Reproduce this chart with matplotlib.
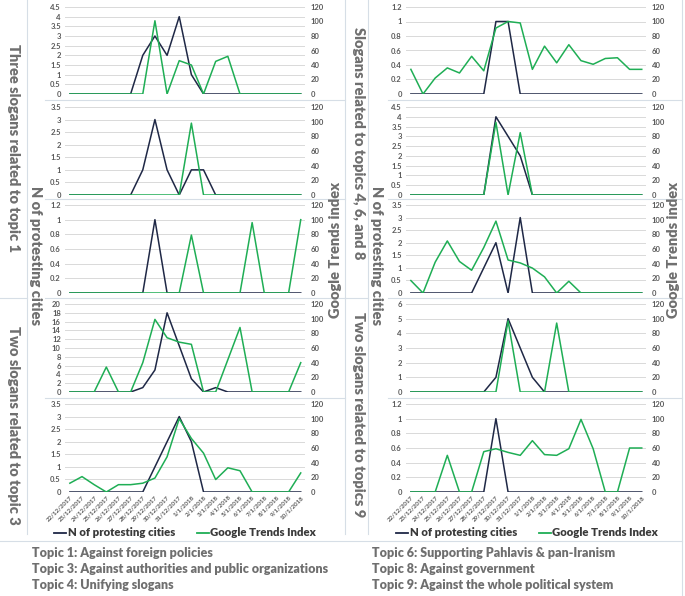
import numpy as np
import matplotlib
matplotlib.use('Agg')
import matplotlib.pyplot as plt
from matplotlib.lines import Line2D
from matplotlib.ticker import FuncFormatter

dates = ['22/12/2017', '23/12/2017', '24/12/2017', '25/12/2017', '26/12/2017',
         '27/12/2017', '28/12/2017', '29/12/2017', '30/12/2017', '31/12/2017',
         '1/1/2018', '2/1/2018', '3/1/2018', '4/1/2018', '5/1/2018',
         '6/1/2018', '7/1/2018', '8/1/2018', '9/1/2018', '10/1/2018']

# left column: three slogans topic 1 (3 panels), two slogans topic 3 (2 panels)
l1_cities = [0, 0, 0, 0, 0, 0, 2, 3, 2, 4, 1, 0, 0, 0, 0, 0, 0, 0, 0, 0]
l1_trends = [0, 0, 0, 0, 0, 0, 0, 101, 0, 46, 40, 0, 45, 52, 0, 0, 0, 0, 0, 0]
l2_cities = [0, 0, 0, 0, 0, 0, 1, 3, 1, 0, 1, 1, 0, 0, 0, 0, 0, 0, 0, 0]
l2_trends = [0, 0, 0, 0, 0, 0, 0, 0, 0, 0, 98, 0, 0, 0, 0, 0, 0, 0, 0, 0]
l3_cities = [0, 0, 0, 0, 0, 0, 0, 1, 0, 0, 0, 0, 0, 0, 0, 0, 0, 0, 0, 0]
l3_trends = [0, 0, 0, 0, 0, 0, 0, 0, 0, 0, 79, 0, 0, 0, 0, 96, 0, 0, 0, 100]
l4_cities = [0, 0, 0, 0, 0, 0, 1, 5, 18, 10.5, 3, 0, 1, 0, 0, 0, 0, 0, 0, 0]
l4_trends = [0, 0, 0, 34, 0, 0, 40, 99, 74, 68, 65, 0, 0, 44, 88, 0, 0, 0, 0, 40]
l5_cities = [0, 0, 0, 0, 0, 0, 0, 1, 2, 3, 2, 0, 0, 0, 0, 0, 0, 0, 0, 0]
l5_trends = [12, 21, 10, 0, 10, 10, 12, 19, 48, 100, 73, 53, 17, 33, 29, 0, 0, 0, 0, 26]

# right column: topics 4, 6, 8 (3 panels), topic 9 (2 panels)
r1_cities = [0, 0, 0, 0, 0, 0, 0, 1, 1, 0, 0, 0, 0, 0, 0, 0, 0, 0, 0, 0]
r1_trends = [34, 0, 22, 36, 29, 52, 32, 91, 100, 98, 34, 66, 43, 68, 46, 41, 49, 50, 34, 34]
r2_cities = [0, 0, 0, 0, 0, 0, 0, 4, 3, 2, 0, 0, 0, 0, 0, 0, 0, 0, 0, 0]
r2_trends = [0, 0, 0, 0, 0, 0, 0, 99, 0, 85, 0, 0, 0, 0, 0, 0, 0, 0, 0, 0]
r3_cities = [0, 0, 0, 0, 0, 0, 1, 2, 0, 3, 0, 0, 0, 0, 0, 0, 0, 0, 0, 0]
r3_trends = [17, 0, 42, 71, 43, 31, 62, 98, 45, 41, 34, 22, 0, 16, 0, 0, 0, 0, 0, 0]
r4_cities = [0, 0, 0, 0, 0, 0, 0, 1, 5, 3, 1, 0, 0, 0, 0, 0, 0, 0, 0, 0]
r4_trends = [0, 0, 0, 0, 0, 0, 0, 0, 97, 0, 0, 0, 94, 0, 0, 0, 0, 0, 0, 0]
r5_cities = [0, 0, 0, 0, 0, 0, 0, 1, 0, 0, 0, 0, 0, 0, 0, 0, 0, 0, 0, 0]
r5_trends = [0, 0, 0, 50, 0, 0, 55, 59, 54, 50, 70, 51, 50, 59, 99, 59, 0, 0, 60, 60]

left_max = [4.5, 3.5, 1.2, 20, 3.5]
left_step = [0.5, 0.5, 0.2, 2, 0.5]
right_max = [1.2, 4.5, 3.5, 6, 1.2]
right_step = [0.2, 0.5, 0.5, 1, 0.2]

topics_left = ['Topic 1: Against foreign policies',
               'Topic 3: Against authorities and public organizations',
               'Topic 4: Unifying slogans']
topics_right = ['Topic 6: Supporting Pahlavis & pan-Iranism',
                'Topic 8: Against government',
                'Topic 9: Against the whole political system']

W, H = 685, 596
FONT = 'Lato'
GRAY = '#6f6f6f'
TICK = '#595959'
NAVY = '#1f2846'
GREEN = '#1fae55'
EDGE = '#d6dee6'

plt.rcParams['font.family'] = [FONT, 'DejaVu Sans']
fig = plt.figure(figsize=(W / 100, H / 100), dpi=100)
fig.patch.set_facecolor('white')


def rect(x0, y0, x1, y1):
    return [x0 / W, 1 - y1 / H, (x1 - x0) / W, (y1 - y0) / H]


def fx(x):
    return x / W


def fy(y):
    return 1 - y / H


rows = [(7, 94), (107, 195), (205, 293), (304, 392), (404, 492)]
fmt = FuncFormatter(lambda v, p: '{:g}'.format(round(v, 2)))


def panel(x0, x1, row, cities, trends, ymax, ystep, bottom):
    ax = fig.add_axes(rect(x0, row[0], x1, row[1]))
    ax.set_facecolor('none')
    x = np.arange(len(dates))
    ax.plot(x, cities, color=NAVY, lw=1.1)
    ax.set_xlim(-0.4, 19.35)
    ax.set_ylim(0, ymax)
    ax.set_yticks(np.arange(0, ymax + ystep / 2, ystep))
    ax.yaxis.set_major_formatter(fmt)
    ax.grid(axis='y', color='#d9d9d9', lw=0.7)
    ax.set_axisbelow(True)
    for s in ax.spines.values():
        s.set_visible(False)
    ax.tick_params(axis='y', length=0, pad=3, labelsize=5.5, labelcolor=TICK)
    ax.set_xticks(x)
    if bottom:
        ax.set_xticklabels(dates, rotation=45, ha='right', rotation_mode='anchor',
                           fontsize=4.4, color=TICK, fontweight='bold')
        ax.tick_params(axis='x', length=0, pad=2)
    else:
        ax.tick_params(axis='x', length=0, labelbottom=False)
    for t in ax.get_yticklabels():
        t.set_fontweight('bold')
    ax2 = ax.twinx()
    ax2.plot(x, trends, color=GREEN, lw=1.1)
    ax2.set_ylim(0, 120)
    ax2.set_yticks(np.arange(0, 121, 20))
    for s in ax2.spines.values():
        s.set_visible(False)
    ax2.tick_params(axis='y', length=0, pad=4, labelsize=5.5, labelcolor=TICK)
    for t in ax2.get_yticklabels():
        t.set_fontweight('bold')
    return ax


def legend_at(xc):
    hl = [Line2D([], [], color=NAVY, lw=1.3), Line2D([], [], color=GREEN, lw=1.3)]
    fig.legend(hl, ['N of protesting cities', 'Google Trends Index'], loc='center',
               bbox_to_anchor=(fx(xc), fy(533)), ncol=2, frameon=False,
               handlelength=1.1, handletextpad=0.1, columnspacing=1.9,
               borderpad=0, prop={'family': FONT, 'weight': 'heavy', 'size': 8.2},
               labelcolor='#3a3a3a')


left_data = [(l1_cities, l1_trends), (l2_cities, l2_trends), (l3_cities, l3_trends),
             (l4_cities, l4_trends), (l5_cities, l5_trends)]
right_data = [(r1_cities, r1_trends), (r2_cities, r2_trends), (r3_cities, r3_trends),
              (r4_cities, r4_trends), (r5_cities, r5_trends)]

for i, (c, t) in enumerate(left_data):
    panel(65, 305, rows[i], c, t, left_max[i], left_step[i], i == 4)
for i, (c, t) in enumerate(right_data):
    panel(406, 646, rows[i], c, t, right_max[i], right_step[i], i == 4)
legend_at(185)
legend_at(527)

# side labels
lab = dict(color=GRAY, fontweight='heavy', ha='center', va='center', family=FONT)
fig.text(fx(13), fy(148), 'Three slogans related to topic 1', rotation=270, fontsize=10.5, **lab)
fig.text(fx(13), fy(425), 'Two slogans related to topic 3', rotation=270, fontsize=10.5, **lab)
fig.text(fx(35), fy(256), 'N of protesting cities', rotation=270, fontsize=10.5, **lab)
fig.text(fx(336), fy(250), 'Google Trends index', rotation=90, fontsize=10.5, **lab)
fig.text(fx(358), fy(143), 'Slogans related to topics 4, 6, and 8', rotation=270, fontsize=10.5, **lab)
fig.text(fx(358), fy(415), 'Two slogans related to topics 9', rotation=270, fontsize=10.5, **lab)
fig.text(fx(377), fy(256), 'N of protesting cities', rotation=270, fontsize=10.5, **lab)
fig.text(fx(674), fy(250), 'Google Trends index', rotation=90, fontsize=10.5, **lab)

# topic key
for k, s in enumerate(topics_left):
    fig.text(fx(32), fy(553 + 16 * k), s, color=GRAY, fontweight='heavy',
             fontsize=9.0, va='center', ha='left', family=FONT)
for k, s in enumerate(topics_right):
    fig.text(fx(372), fy(553 + 16 * k), s, color=GRAY, fontweight='heavy',
             fontsize=9.0, va='center', ha='left', family=FONT)

# frame lines
segs = [((27, 0), (27, 534)), ((0, 298), (27, 298)), ((345, 0), (345, 534)),
        ((368, 0), (368, 534)), ((345, 298), (368, 298)), ((682, 0), (682, 596)),
        ((0, 541), (682, 541))]
for yy in (100, 199, 298, 398):
    segs.append(((45, yy), (345, yy)))
    segs.append(((388, yy), (682, yy)))
for (a, b) in segs:
    fig.add_artist(Line2D([fx(a[0]), fx(b[0])], [fy(a[1]), fy(b[1])],
                          color=EDGE, lw=0.8, transform=fig.transFigure))

fig.savefig('out.png', dpi=100, facecolor='white')
